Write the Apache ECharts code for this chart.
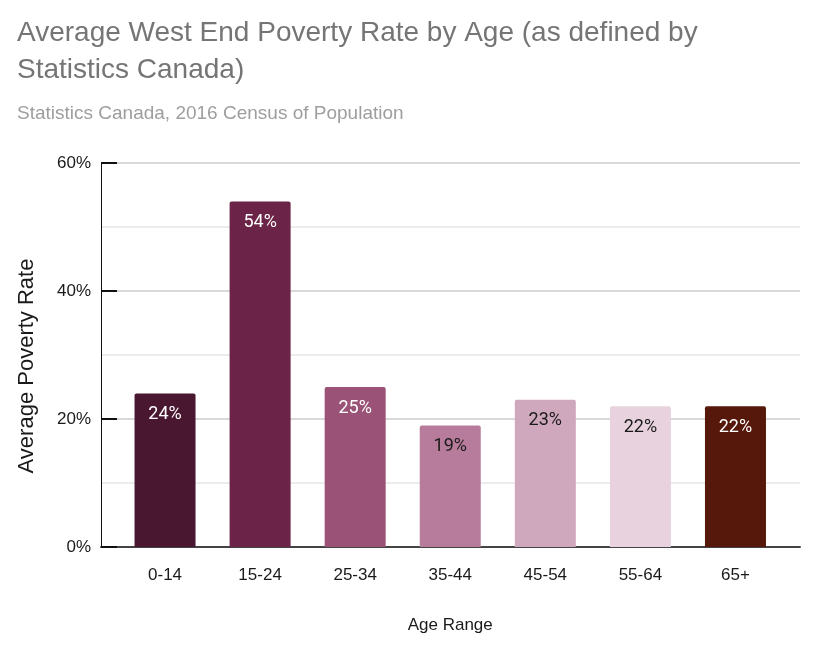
<!DOCTYPE html>
<html>
<head>
<meta charset="utf-8">
<script src="https://cdn.jsdelivr.net/npm/echarts@6/dist/echarts.min.js"></script>
<style>
html,body{margin:0;padding:0;background:#fff;}
#c{width:822px;height:647px;}
</style>
</head>
<body>
<div id="c"></div>
<script>
const titleText = 'Average West End Poverty Rate by Age (as defined by\nStatistics Canada)';
const subtitleText = 'Statistics Canada, 2016 Census of Population';
const categories = ['0-14', '15-24', '25-34', '35-44', '45-54', '55-64', '65+'];
const povertyRate = [24, 54, 25, 19, 23, 22, 22];
const yTicks = [0, 20, 40, 60];
const xAxisTitle = 'Age Range';
const yAxisTitle = 'Average Poverty Rate';

const barColors = ['#4a1730', '#6b2347', '#9b5277', '#b77c9b', '#cfa8bd', '#e7d2dd', '#55180a'];
const labelColors = ['#ffffff', '#ffffff', '#ffffff', '#1a1a1a', '#1a1a1a', '#1a1a1a', '#ffffff'];

const FONT = 'Liberation Sans, Arial, sans-serif';
const chart = echarts.init(document.getElementById('c'), null, {renderer: 'canvas'});

const yMin = yTicks[0], yMax = yTicks[yTicks.length - 1];
const yInterval = yTicks[1] - yTicks[0];

const option = {
  animation: false,
  backgroundColor: '#ffffff',
  title: [
    {
      text: titleText,
      left: 17, top: 15, padding: 0,
      textStyle: {fontFamily: FONT, fontSize: 28, fontWeight: 'normal', color: '#757575', lineHeight: 37}
    },
    {
      text: subtitleText,
      left: 17, top: 104, padding: 0,
      textStyle: {fontFamily: FONT, fontSize: 19, fontWeight: 'normal', color: '#9e9e9e'}
    }
  ],
  grid: [
    {left: 101, right: 22, top: 163, bottom: 100, containLabel: false},
    {left: 117.5, right: 39, top: 163, bottom: 100, containLabel: false}
  ],
  xAxis: [
    {
      gridIndex: 0, type: 'value', min: 0, max: 1,
      axisLine: {show: true, onZero: false, lineStyle: {color: '#444', width: 2}},
      axisTick: {show: false}, axisLabel: {show: false}, splitLine: {show: false}
    },
    {
      gridIndex: 1, type: 'category', data: categories,
      axisLine: {show: false}, axisTick: {show: false},
      axisLabel: {margin: 20, fontFamily: FONT, fontSize: 17, color: '#1a1a1a'},
      name: xAxisTitle, nameLocation: 'middle', nameGap: 70,
      nameTextStyle: {fontFamily: FONT, fontSize: 17, color: '#1a1a1a'}
    }
  ],
  yAxis: [
    {
      gridIndex: 0, type: 'value', min: yMin, max: yMax, interval: yInterval,
      axisLine: {show: true, lineStyle: {color: '#111', width: 1}},
      axisTick: {show: true, inside: true, length: 16, lineStyle: {color: '#111', width: 2}},
      axisLabel: {margin: 10, fontFamily: FONT, fontSize: 17, color: '#1a1a1a', formatter: '{value}%'},
      splitLine: {show: true, lineStyle: {color: '#cccccc', width: 1.5}},
      minorTick: {show: false, splitNumber: 2},
      minorSplitLine: {show: true, lineStyle: {color: '#e6e6e6', width: 1.5}},
      name: yAxisTitle, nameLocation: 'middle', nameGap: 63, nameRotate: 90,
      nameTextStyle: {fontFamily: FONT, fontSize: 22, color: '#1a1a1a', padding: [0, 22, 0, 0]}
    },
    {
      gridIndex: 1, type: 'value', min: yMin, max: yMax, interval: yInterval,
      show: false, splitLine: {show: false}
    }
  ],
  series: [
    {
      type: 'bar',
      xAxisIndex: 1, yAxisIndex: 1,
      barWidth: 61,
      data: povertyRate.map((v, i) => ({
        value: v,
        itemStyle: {color: barColors[i], borderRadius: [2, 2, 0, 0]},
        label: {color: labelColors[i]}
      })),
      label: {
        show: true, position: 'insideTop', distance: 12,
        fontFamily: 'Roboto, sans-serif', fontSize: 18,
        formatter: p => p.value + '%'
      }
    }
  ]
};
chart.setOption(option);
</script>
</body>
</html>
